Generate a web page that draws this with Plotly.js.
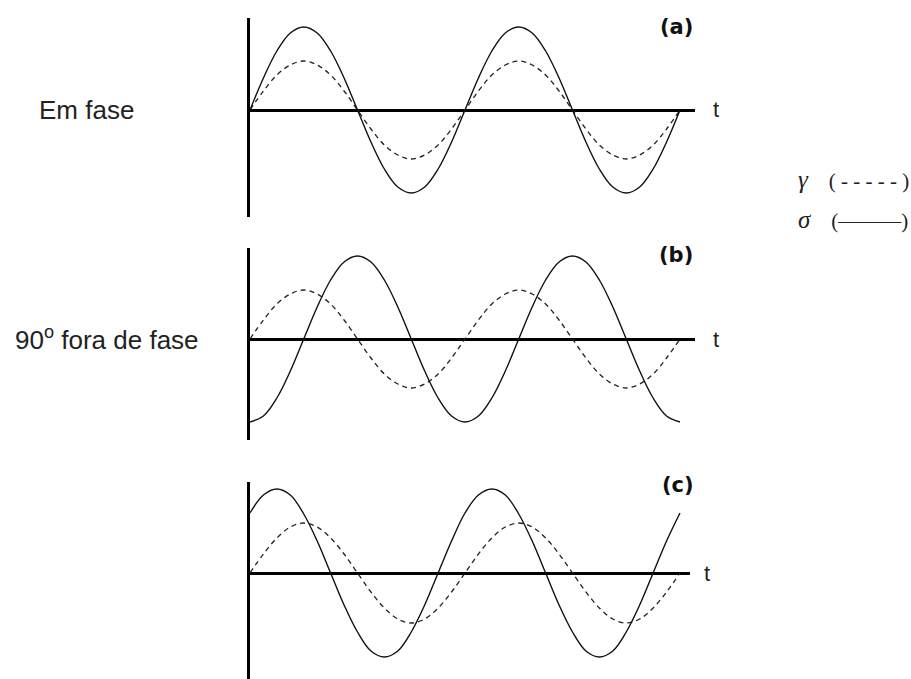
<!DOCTYPE html>
<html>
<head>
<meta charset="utf-8">
<script src="https://cdn.plot.ly/plotly-3.0.1.min.js"></script>
<style>
  body { margin: 0; background: #fff; }
  #stat { width: 911px; height: 679px; }
</style>
</head>
<body>
<div id="stat"></div>
<script>
// time in periods, sampled every 1/16 of a period
const t = [0, 0.0625, 0.125, 0.1875, 0.25, 0.3125, 0.375, 0.4375, 0.5, 0.5625, 0.625, 0.6875, 0.75, 0.8125, 0.875, 0.9375,
           1, 1.0625, 1.125, 1.1875, 1.25, 1.3125, 1.375, 1.4375, 1.5, 1.5625, 1.625, 1.6875, 1.75, 1.8125, 1.875, 1.9375, 2]

// heights above the t axis (px)
const sigmaA = [0, 32, 59, 77, 83, 77, 59, 32, 0, -32, -59, -77, -83, -77, -59, -32,
                0, 32, 59, 77, 83, 77, 59, 32, 0, -32, -59, -77, -83, -77, -59, -32, 0]
const gammaA = [0, 19, 35, 45, 49, 45, 35, 19, 0, -19, -35, -45, -49, -45, -35, -19,
                0, 19, 35, 45, 49, 45, 35, 19, 0, -19, -35, -45, -49, -45, -35, -19, 0]
const sigmaB = [-83, -77, -59, -32, 0, 32, 59, 77, 83, 77, 59, 32, 0, -32, -59, -77,
                -83, -77, -59, -32, 0, 32, 59, 77, 83, 77, 59, 32, 0, -32, -59, -77, -83]
const gammaB = [0, 19, 35, 45, 49, 45, 35, 19, 0, -19, -35, -45, -49, -45, -35, -19,
                0, 19, 35, 45, 49, 45, 35, 19, 0, -19, -35, -45, -49, -45, -35, -19, 0]
const sigmaC = [60, 78, 84, 78, 59, 32, 0, -32, -59, -78, -84, -78, -59, -32, 0, 32,
                60, 78, 84, 78, 59, 32, 0, -32, -59, -78, -84, -78, -59, -32, 0, 32, 60]
const gammaC = [0, 19, 35, 46, 50, 46, 35, 19, 0, -19, -35, -46, -50, -46, -35, -19,
                0, 19, 35, 46, 50, 46, 35, 19, 0, -19, -35, -46, -50, -46, -35, -19, 0]

const panelLabels = ['(a)', '(b)', '(c)']
const rowLabels = ['Em fase', '90<sup>o</sup> fora de fase']

const W = 911, H = 679
const periodPx = 215
const px = x => x / W
const py = y => 1 - y / H
const sp = '\u00a0'

// pixel boxes of each panel: left, right, top, bottom, t axis
const panels = [
  {l: 250, r: 695, top: 18, bot: 217, axis: 110, lab: [676, 27], tx: 716, sig: sigmaA, gam: gammaA},
  {l: 250, r: 695, top: 248, bot: 440, axis: 339, lab: [676, 255], tx: 716, sig: sigmaB, gam: gammaB},
  {l: 250, r: 690, top: 482, bot: 679, axis: 573, lab: [678, 485], tx: 707, sig: sigmaC, gam: gammaC}
]

const data = []
const layout = {
  width: W, height: H,
  margin: {l: 0, r: 0, t: 0, b: 0},
  paper_bgcolor: '#fff', plot_bgcolor: 'rgba(0,0,0,0)',
  showlegend: false,
  annotations: []
}

const note = (text, x, y, font, xanchor) => ({
  text: text, x: px(x), y: py(y), xanchor: xanchor || 'center', yanchor: 'middle',
  xref: 'paper', yref: 'paper', showarrow: false, font: font
})

panels.forEach((p, i) => {
  const n = i === 0 ? '' : String(i + 1)
  data.push({
    x: t, y: p.gam, xaxis: 'x' + n, yaxis: 'y' + n,
    mode: 'lines', line: {color: '#222', width: 1.3, dash: '5px,4px', shape: 'spline'}
  })
  data.push({
    x: t, y: p.sig, xaxis: 'x' + n, yaxis: 'y' + n,
    mode: 'lines', line: {color: '#111', width: 1.4, shape: 'spline'}
  })
  layout['xaxis' + n] = {
    domain: [px(p.l), px(p.r)],
    range: [0, (p.r - p.l) / periodPx],
    anchor: 'y' + n, visible: false
  }
  layout['yaxis' + n] = {
    domain: [py(p.bot), py(p.top)],
    range: [-(p.bot - p.axis), p.axis - p.top],
    anchor: 'x' + n,
    showgrid: false, showticklabels: false, ticks: '',
    zeroline: true, zerolinewidth: 3, zerolinecolor: '#000',
    showline: true, linewidth: 3, linecolor: '#000'
  }
  layout.annotations.push(note('<b>' + panelLabels[i] + '</b>', p.lab[0], p.lab[1],
    {family: 'DejaVu Sans', size: 21, color: '#111'}))
  layout.annotations.push(note('t', p.tx, p.axis,
    {family: 'Liberation Sans', size: 22, color: '#222'}))
})

layout.annotations.push(note(rowLabels[0], 37, 110, {family: 'Liberation Sans', size: 26, color: '#222'}, 'left'))
layout.annotations.push(note(rowLabels[1], 13, 338, {family: 'Liberation Sans', size: 26, color: '#222'}, 'left'))

// legend written as text, like the original
const big = s => '<span style="font-size:25px"><i>' + s + '</i></span>'
layout.annotations.push(note(big('γ') + sp + sp + sp + sp + '(' + sp + '-' + sp + '-' + sp + '-' + sp + '-' + sp + '-' + sp + ')',
  796, 180, {family: 'Liberation Serif', size: 21, color: '#222'}, 'left'))
layout.annotations.push(note(big('σ') + sp + sp + sp + sp + '(———)',
  796, 220, {family: 'Liberation Serif', size: 21, color: '#222'}, 'left'))

Plotly.newPlot('stat', data, layout, {staticPlot: true, displayModeBar: false})
</script>
</body>
</html>
